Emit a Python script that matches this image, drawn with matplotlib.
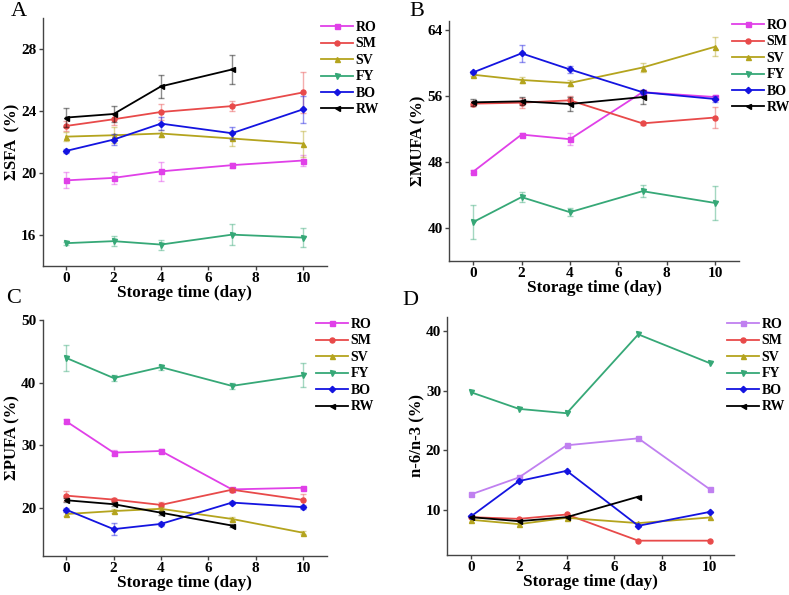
import matplotlib
matplotlib.use("Agg")
import matplotlib.pyplot as plt

# DATA
days = [0, 2, 4, 7, 10]
rw_days = [0, 2, 4, 7]
series = ["RO", "SM", "SV", "FY", "BO", "RW"]

# panel A: sum SFA (%)
sfa = {
    "RO": [19.52, 19.68, 20.10, 20.50, 20.80],
    "SM": [23.03, 23.46, 23.93, 24.31, 25.19],
    "SV": [22.34, 22.43, 22.54, 22.22, 21.89],
    "FY": [15.47, 15.60, 15.38, 16.02, 15.83],
    "BO": [21.42, 22.15, 23.18, 22.56, 24.10],
    "RW": [23.57, 23.80, 25.58, 26.67],
}
sfa_err = {
    "RO": [0.52, 0.37, 0.60, 0.17, 0.34],
    "SM": [0.30, 0.40, 0.54, 0.32, 1.33],
    "SV": [0.30, 0.50, 0.20, 0.50, 0.84],
    "FY": [0.10, 0.34, 0.32, 0.66, 0.62],
    "BO": [0.15, 0.35, 0.40, 0.40, 0.85],
    "RW": [0.60, 0.54, 0.72, 0.91],
}

# panel B: sum MUFA (%)
mufa = {
    "RO": [46.78, 51.28, 50.72, 56.42, 55.83],
    "SM": [55.03, 55.15, 55.43, 52.64, 53.35],
    "SV": [58.54, 57.90, 57.54, 59.41, 61.93],
    "FY": [40.67, 43.70, 41.87, 44.42, 42.99],
    "BO": [58.82, 61.13, 59.18, 56.42, 55.59],
    "RW": [55.19, 55.31, 54.99, 55.83],
}
mufa_err = {
    "RO": [0.20, 0.20, 0.70, 0.30, 0.30],
    "SM": [0.30, 0.60, 0.50, 0.20, 1.30],
    "SV": [0.20, 0.40, 0.40, 0.50, 1.18],
    "FY": [2.10, 0.60, 0.50, 0.70, 2.10],
    "BO": [0.20, 1.00, 0.40, 0.20, 0.40],
    "RW": [0.40, 0.50, 0.80, 0.80],
}

# panel C: sum PUFA (%)
pufa = {
    "RO": [33.83, 28.87, 29.13, 23.03, 23.29],
    "SM": [22.04, 21.41, 20.57, 22.98, 21.36],
    "SV": [19.12, 19.59, 19.95, 18.34, 16.15],
    "FY": [43.90, 40.71, 42.44, 39.46, 41.13],
    "BO": [19.80, 16.72, 17.55, 20.94, 20.21],
    "RW": [21.31, 20.68, 19.33, 17.29],
}
pufa_err = {
    "RO": [0.30, 0.40, 0.30, 0.30, 0.20],
    "SM": [0.80, 0.30, 0.40, 0.30, 0.90],
    "SV": [0.30, 0.30, 0.30, 0.30, 0.20],
    "FY": [2.06, 0.50, 0.40, 0.50, 1.90],
    "BO": [0.30, 1.00, 0.30, 0.30, 0.30],
    "RW": [0.30, 0.30, 0.30, 0.20],
}

# panel D: n-6/n-3 ratio, no error bars
ratio = {
    "RO": [12.62, 15.46, 20.86, 22.03, 13.46],
    "SM": [8.78, 8.50, 9.23, 4.83, 4.83],
    "SV": [8.34, 7.61, 8.67, 7.78, 8.73],
    "FY": [29.76, 26.98, 26.25, 39.50, 34.66],
    "BO": [8.94, 14.85, 16.57, 7.33, 9.67],
    "RW": [8.78, 8.11, 8.78, 12.23],
}

# STYLE
colors = {"RO": "#e040e8", "SM": "#e84a4a", "SV": "#b4a41e",
          "FY": "#36a877", "BO": "#1414e0", "RW": "#000000"}
markers = {"RO": "s", "SM": "o", "SV": "^", "FY": "v", "BO": "D", "RW": "<"}

plt.rcParams["font.family"] = ["Liberation Serif", "DejaVu Serif"]
plt.rcParams["font.weight"] = "bold"

fig = plt.figure(figsize=(7.89, 5.95), dpi=100)


# Draw one panel with lines, optional error bars and a legend outside the axes.
def panel(rect, data, err, ylabel, ylim, yticks, letter, letter_xy, leg_xy, ro_color=None):
    ax = fig.add_axes(rect)
    for s in series:
        c = colors[s]
        if s == "RO" and ro_color:
            c = ro_color
        xs = rw_days if s == "RW" else days
        if err is not None:
            ax.errorbar(xs, data[s], yerr=err[s], fmt="none", ecolor=c, alpha=0.45,
                        elinewidth=1.0, capsize=2.5, capthick=1.0)
        ax.plot(xs, data[s], color=c, marker=markers[s], markersize=3.6 if s != "BO" else 3.2,
                linewidth=1.3, label=s)
    ax.set_xlim(-1, 11)
    ax.set_ylim(*ylim)
    ax.set_xticks([0, 2, 4, 6, 8, 10])
    ax.set_yticks(yticks)
    for sp in ("top", "right"):
        ax.spines[sp].set_visible(False)
    for sp in ("left", "bottom"):
        ax.spines[sp].set_color("#444444")
        ax.spines[sp].set_linewidth(1.0)
    ax.tick_params(direction="out", length=3, width=1.0, color="#444444",
                   labelsize=11, pad=1.5)
    for lab in ax.get_xticklabels() + ax.get_yticklabels():
        lab.set_fontweight("bold")
    ax.set_xlabel("Storage time (day)", fontsize=12.3, fontweight="bold", labelpad=0)
    ax.set_ylabel(ylabel, fontsize=12, fontweight="bold", labelpad=0.5)
    fig.text(letter_xy[0], letter_xy[1], letter, fontsize=16, fontweight="normal",
             ha="left", va="top")
    ax.legend(loc="upper left", bbox_to_anchor=leg_xy, bbox_transform=fig.transFigure,
              frameon=False, handlelength=2.3, handletextpad=0.2,
              labelspacing=0.25, borderpad=0, borderaxespad=0,
              prop={"weight": "bold", "size": 10})
    return ax


panel([0.054, 0.553, 0.360, 0.417], sfa, sfa_err, "ΣSFA  (%)", (14, 30),
      [16, 20, 24, 28], "A", (0.014, 1 - 2 / 595), (321 / 789, 1 - 21 / 595))
panel([0.569, 0.562, 0.368, 0.402], mufa, mufa_err, "ΣMUFA (%)", (36, 65),
      [40, 48, 56, 64], "B", (0.519, 1 - 2 / 595), (732 / 789, 1 - 19 / 595))
panel([0.054, 0.066, 0.360, 0.397], pufa, pufa_err, "ΣPUFA (%)", (12.5, 50),
      [20, 30, 40, 50], "C", (0.008, 1 - 289 / 595), (316 / 789, 1 - 318 / 595))
panel([0.567, 0.068, 0.363, 0.400], ratio, None, "n-6/n-3 (%)", (2.5, 42.5),
      [10, 20, 30, 40], "D", (0.510, 1 - 291 / 595), (727 / 789, 1 - 318 / 595),
      ro_color="#c080f0")

fig.savefig("out.png", dpi=100)
